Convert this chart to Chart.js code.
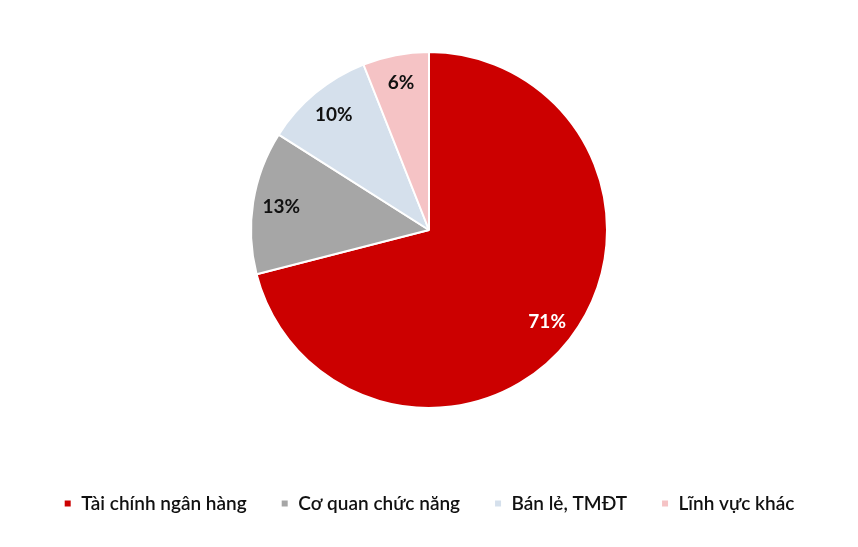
<!DOCTYPE html>
<html>
<head>
<meta charset="utf-8">
<script src="https://cdn.jsdelivr.net/npm/chart.js@4/dist/chart.umd.min.js"></script>
<style>
  html, body { margin: 0; padding: 0; background: #fff; }
  #wrap { width: 858px; height: 547px; position: relative; }
</style>
</head>
<body>
<div id="wrap"><canvas id="pie"></canvas></div>
<script>
// ── Data ──────────────────────────────────────────────
const categories = ['Tài chính ngân hàng', 'Cơ quan chức năng', 'Bán lẻ, TMĐT', 'Lĩnh vực khác'];
const shares     = [71, 13, 10, 6];
const colors     = ['#CC0000', '#A6A6A6', '#D5E0EC', '#F5C3C5'];
const labelInk   = ['#ffffff', '#111111', '#111111', '#111111'];

// percent labels inside each slice
const sliceLabels = {
  id: 'sliceLabels',
  afterDatasetsDraw(chart) {
    const ctx = chart.ctx;
    const meta = chart.getDatasetMeta(0);
    ctx.save();
    ctx.font = 'bold 19px Lato, "Open Sans", sans-serif';
    ctx.textAlign = 'center';
    ctx.textBaseline = 'middle';
    meta.data.forEach((arc, i) => {
      const p = arc.getProps(['x', 'y', 'startAngle', 'endAngle', 'outerRadius'], true);
      const mid = (p.startAngle + p.endAngle) / 2;
      const r = p.outerRadius * 0.84;
      ctx.fillStyle = labelInk[i];
      ctx.fillText(shares[i] + '%', p.x + Math.cos(mid) * r, p.y + Math.sin(mid) * r);
    });
    ctx.restore();
  }
};

new Chart(document.getElementById('pie'), {
  type: 'pie',
  data: {
    labels: categories,
    datasets: [{
      data: shares,
      backgroundColor: colors,
      borderColor: '#ffffff',
      borderWidth: 2,
    }],
  },
  options: {
    responsive: true,
    maintainAspectRatio: false,
    animation: false,
    radius: 178,
    layout: { padding: { top: 0, bottom: 24 } },
    plugins: {
      tooltip: { enabled: false },
      legend: {
        position: 'bottom',
        labels: {
          boxWidth: 8,
          boxHeight: 8,
          padding: 34,
          color: '#111111',
          font: { family: 'Lato, "Open Sans", sans-serif', size: 19, weight: 600 },
        },
      },
    },
  },
  plugins: [sliceLabels],
});
</script>
</body>
</html>
